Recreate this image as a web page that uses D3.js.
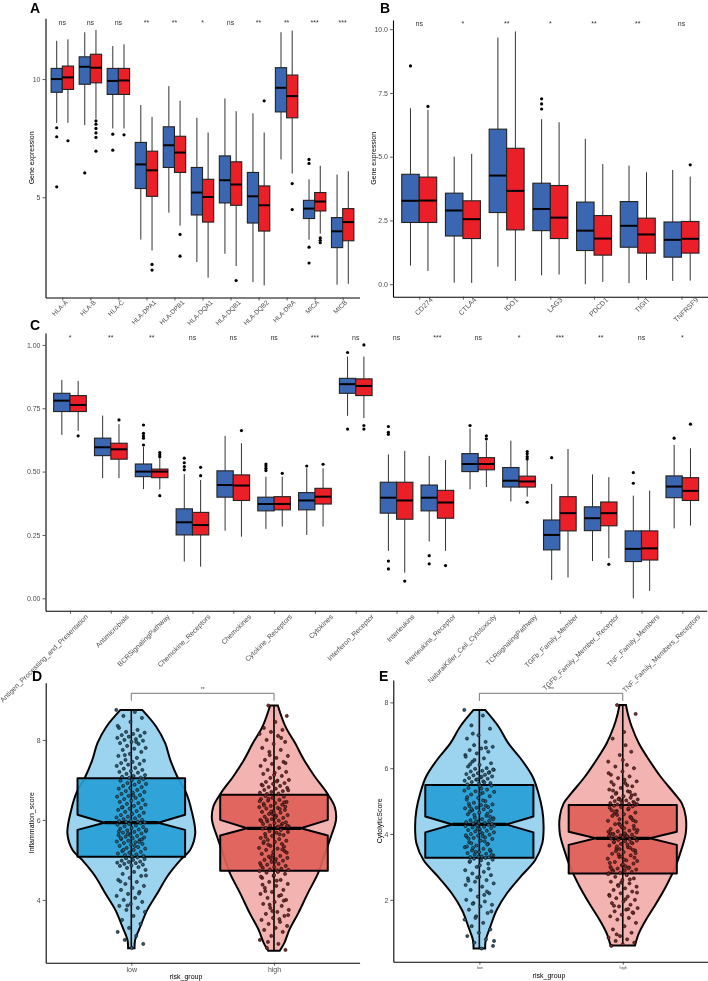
<!DOCTYPE html>
<html><head><meta charset="utf-8">
<script src="https://cdn.jsdelivr.net/npm/d3@7"></script>
<style>body{margin:0;background:#fff}svg{display:block;will-change:transform}text{font-family:"Liberation Sans",Arial,Helvetica,sans-serif}</style>
</head><body><svg id="c" width="708" height="981"></svg>
<script>
// ---------------- DATA ----------------
// stats: [lower whisker, q1, median, q3, upper whisker]
const aGenes = ["HLA-A","HLA-B","HLA-C","HLA-DPA1","HLA-DPB1","HLA-DQA1","HLA-DQB1","HLA-DQB2","HLA-DRA","MICA","MICB"];
const aSig = ["ns","ns","ns","**","**","*","ns","**","**","***","***"];
const aLow = [[8.14,9.44,10.0,10.45,11.62],[8.05,9.78,10.52,10.94,11.98],[7.91,9.35,9.92,10.45,11.4],[3.21,5.37,6.39,7.32,8.9],[4.35,6.26,7.2,7.98,9.7],[2.26,4.25,5.2,6.26,8.36],[2.61,4.76,5.72,6.75,9.18],[1.41,3.91,5.04,6.05,8.55],[6.6,8.61,9.63,10.48,11.98],[3.21,4.1,4.52,4.87,5.76],[1.3,2.87,3.56,4.14,5.96]];
const aHigh = [[8.15,9.56,10.07,10.55,11.68],[8.33,9.84,10.48,11.05,12.08],[7.91,9.35,9.94,10.45,11.47],[2.75,5.04,6.14,6.95,8.4],[3.8,6.05,6.89,7.58,9.08],[1.6,3.95,5.01,5.76,7.74],[2.09,4.66,5.54,6.5,8.64],[1.27,3.57,4.66,5.48,7.74],[6.0,8.36,9.28,10.17,12.05],[3.46,4.42,4.82,5.2,6.33],[1.34,3.16,3.95,4.52,6.1]];
const aOutLow = [[7.94,7.56,5.44],[6.03],[7.67,6.99],[],[],[],[],[],[],[6.6,6.43,2.89,2.22],[]];
const aOutHigh = [[7.39],[8.23,8.09,7.91,7.72,7.53,6.95],[7.64],[2.16,1.92],[3.43,2.51],[],[1.48],[9.08],[5.58,4.48],[3.28,3.18,3.08],[]];
const aTicks = [5,10];

const bGenes = ["CD274","CTLA4","IDO1","LAG3","PDCD1","TIGIT","TNFRSF9"];
const bSig = ["ns","*","**","*","**","**","ns"];
const bLow = [[0.73,2.42,3.27,4.31,6.9],[0.06,1.89,2.89,3.57,5.0],[0.69,2.81,4.26,6.08,9.67],[0.35,2.1,2.95,3.96,6.47],[0.0,1.32,2.1,3.22,5.7],[0.04,1.45,2.29,3.24,4.65],[0.13,1.06,1.74,2.44,4.48]];
const bHigh = [[0.52,2.42,3.28,4.2,6.84],[0.05,1.79,2.55,3.27,5.11],[0.13,2.13,3.66,5.33,9.91],[0.38,1.79,2.61,3.87,6.35],[0.09,1.14,1.79,2.69,4.71],[0.17,1.22,1.95,2.59,4.39],[0.14,1.22,1.78,2.46,4.22]];
const bOutLow = [[8.56],[],[],[7.27,7.07,6.87],[],[],[]];
const bOutHigh = [[6.97],[],[],[],[],[],[4.68]];
const bTicks = [0,2.5,5,7.5,10];

const cSets = ["Antigen_Processing_and_Presentation","Antimicrobials","BCRSignalingPathway","Chemokine_Receptors","Chemokines","Cytokine_Receptors","Cytokines","Interferon_Receptor","Interleukins","Interleukins_Receptor","NaturalKiller_Cell_Cytotoxicity","TCRsignalingPathway","TGFb_Family_Member","TGFb_Family_Member_Receptor","TNF_Family_Members","TNF_Family_Members_Receptors"];
const cSig = ["*","**","**","ns","ns","ns","***","ns","ns","***","ns","*","***","**","ns","*"];
const cLow = [[0.645,0.737,0.78,0.809,0.862],[0.474,0.563,0.596,0.632,0.721],[0.431,0.48,0.5,0.53,0.597],[0.145,0.25,0.3,0.353,0.49],[0.267,0.399,0.447,0.503,0.641],[0.274,0.345,0.372,0.399,0.48],[0.25,0.349,0.386,0.417,0.513],[0.72,0.809,0.845,0.868,0.954],[0.187,0.336,0.397,0.458,0.568],[0.224,0.345,0.397,0.447,0.562],[0.43,0.5,0.53,0.571,0.67],[0.382,0.439,0.464,0.516,0.622],[0.072,0.191,0.25,0.309,0.451],[0.147,0.267,0.316,0.361,0.489],[0.0,0.145,0.195,0.266,0.405],[0.276,0.397,0.441,0.483,0.605]];
const cHigh = [[0.661,0.737,0.763,0.8,0.858],[0.474,0.549,0.588,0.612,0.687],[0.43,0.476,0.5,0.51,0.553],[0.125,0.25,0.289,0.339,0.467],[0.243,0.386,0.445,0.487,0.612],[0.283,0.349,0.372,0.401,0.48],[0.283,0.372,0.401,0.434,0.513],[0.711,0.8,0.838,0.866,0.954],[0.101,0.312,0.386,0.458,0.582],[0.187,0.316,0.378,0.426,0.546],[0.439,0.507,0.53,0.555,0.62],[0.401,0.439,0.461,0.482,0.545],[0.082,0.266,0.336,0.401,0.589],[0.158,0.286,0.336,0.38,0.478],[0.029,0.151,0.197,0.266,0.425],[0.287,0.386,0.424,0.476,0.592]];
const cOutLow = [[],[],[0.684,0.651,0.641,0.632,0.605],[0.553,0.535,0.52,0.507],[],[0.53,0.522,0.513,0.504],[0.522],[0.97,0.668],[0.678,0.655,0.647,0.147,0.116],[0.168,0.136],[0.682],[],[0.555],[],[0.496,0.454],[0.632]];
const cOutHigh = [[0.641],[0.704],[0.575,0.566,0.559,0.405],[0.517,0.484],[0.662],[0.493],[0.529],[1.0,0.682,0.668],[0.068],[0.129],[0.641,0.629],[0.579,0.57,0.559,0.55,0.379],[],[0.134],[],[0.687]];
const cTicks = [0,0.25,0.5,0.75,1.0];

const groups = ["low","high"];
// violin profiles: [value, relative half-width]
const dProfLow = [[8.75,0.17],[8.33,0.39],[7.92,0.53],[7.5,0.61],[7.08,0.72],[6.67,0.86],[6.25,0.94],[5.67,1.0],[5.25,0.92],[5.0,0.77],[4.58,0.56],[4.17,0.41],[3.75,0.25],[3.33,0.14],[3.0,0.06],[2.79,0.05]];
const dProfHigh = [[8.86,0.06],[8.33,0.18],[7.92,0.33],[7.5,0.47],[7.08,0.64],[6.67,0.83],[6.33,0.95],[6.0,0.97],[5.58,0.89],[5.17,0.8],[4.67,0.69],[4.17,0.53],[3.67,0.38],[3.25,0.24],[2.92,0.16],[2.73,0.09]];
// [min, q1, median, q3, max, notch low, notch high]
const dStats = [[2.79,5.08,5.93,7.04,8.75,5.75,6.13],[2.73,4.73,5.79,6.63,8.86,5.61,6.0]];
const dPtsLow = [8.75,8.7,8.6,8.55,8.45,8.3,8.25,8.2,8.18,8.15,8.12,8.1,8.08,8.05,8.02,8.0,7.98,7.95,7.92,7.9,7.85,7.8,7.78,7.75,7.7,7.65,7.6,7.55,7.5,7.48,7.45,7.42,7.4,7.38,7.35,7.3,7.28,7.25,7.22,7.2,7.18,7.15,7.12,7.1,7.08,7.06,7.05,8.35,7.95,7.62,
7.02,7.0,6.98,6.95,6.92,6.9,6.88,6.85,6.82,6.8,6.78,6.75,6.72,6.7,6.68,6.65,6.62,6.6,6.58,6.55,6.52,6.5,6.48,6.45,6.42,6.4,6.38,6.35,6.32,6.3,6.28,6.25,6.22,6.2,6.18,6.15,6.12,6.1,6.08,6.06,6.04,6.02,6.0,5.98,5.97,5.96,5.95,5.94,6.61,6.31,
5.92,5.9,5.88,5.86,5.84,5.82,5.8,5.78,5.76,5.74,5.72,5.7,5.68,5.66,5.64,5.62,5.6,5.58,5.56,5.54,5.52,5.5,5.48,5.46,5.44,5.42,5.4,5.38,5.35,5.32,5.3,5.28,5.25,5.22,5.2,5.18,5.16,5.14,5.12,5.1,5.09,5.55,5.45,5.65,5.75,5.35,5.25,5.51,5.61,5.71,
5.06,5.04,5.02,5.0,4.98,4.96,4.95,4.93,4.92,4.9,4.88,4.86,4.85,4.82,4.8,4.75,4.7,4.65,4.6,4.55,4.5,4.45,4.4,4.35,4.3,4.25,4.2,4.15,4.1,4.05,4.0,3.95,3.9,3.85,3.8,3.75,3.7,3.6,3.5,3.4,3.3,3.2,3.1,3.0,2.9,2.8,4.46,4.16,3.86,4.61];
const dPtsHigh = [8.86,8.6,8.45,8.3,8.25,8.2,8.15,8.1,8.0,7.95,7.9,7.8,7.75,7.7,7.6,7.55,7.5,7.45,7.4,7.35,7.3,7.25,7.2,7.18,7.15,7.1,7.05,7.0,6.98,6.95,6.92,6.9,6.88,6.85,6.82,6.8,6.78,6.75,6.72,6.7,6.68,6.66,6.65,7.42,7.12,6.86,8.05,7.62,6.74,6.96,
6.6,6.58,6.55,6.52,6.5,6.48,6.45,6.42,6.4,6.38,6.35,6.32,6.3,6.28,6.25,6.22,6.2,6.18,6.15,6.12,6.1,6.08,6.05,6.02,6.0,5.98,5.96,5.94,5.92,5.9,5.88,5.86,5.84,5.82,5.8,6.44,6.14,5.97,6.27,6.53,5.85,6.06,6.36,5.91,6.21,6.47,5.83,6.01,6.33,6.17,
5.78,5.75,5.72,5.7,5.68,5.65,5.62,5.6,5.55,5.52,5.5,5.48,5.45,5.42,5.4,5.35,5.3,5.28,5.25,5.22,5.2,5.15,5.1,5.08,5.05,5.02,5.0,4.98,4.95,4.92,4.9,4.88,4.85,4.82,4.8,4.78,4.76,4.75,4.74,5.58,5.33,5.12,4.86,5.64,5.38,5.18,4.96,5.46,5.26,5.04,
4.72,4.7,4.68,4.65,4.6,4.55,4.5,4.45,4.4,4.35,4.3,4.25,4.2,4.15,4.1,4.05,4.0,3.95,3.9,3.85,3.8,3.75,3.7,3.65,3.6,3.55,3.5,3.45,3.4,3.35,3.3,3.25,3.2,3.1,3.0,2.9,2.8,2.75,4.62,4.38,4.12,3.88,3.62,4.48,4.22,3.98,3.72,4.58,3.52,2.95];
const eProfLow = [[7.77,0.09],[7.26,0.3],[6.76,0.45],[6.25,0.66],[5.74,0.83],[5.24,0.92],[4.73,0.98],[4.22,1.0],[3.72,0.98],[3.21,0.87],[2.7,0.64],[2.2,0.43],[1.69,0.27],[1.18,0.17],[0.78,0.1],[0.52,0.09]];
const eProfHigh = [[7.92,0.05],[7.57,0.09],[7.26,0.14],[6.76,0.25],[6.25,0.41],[5.74,0.59],[5.24,0.8],[4.93,0.92],[4.53,0.98],[4.02,0.98],[3.51,0.91],[3.01,0.82],[2.4,0.67],[1.89,0.52],[1.39,0.36],[0.98,0.25],[0.61,0.19]];
const eStats = [[0.52,3.28,4.29,5.49,7.77,4.05,4.53],[0.6,2.8,3.87,4.88,7.92,3.67,4.07]];
const ePtsLow = [7.77,7.6,7.3,7.2,7.0,6.9,6.8,6.7,6.65,6.6,6.55,6.5,6.45,6.4,6.3,6.2,6.15,6.1,6.05,6.0,5.98,5.95,5.92,5.9,5.88,5.85,5.82,5.8,5.78,5.75,5.72,5.7,5.68,5.65,5.62,5.6,5.58,5.55,5.53,5.51,6.62,6.25,5.96,5.74,6.12,5.86,5.66,6.35,5.57,7.05,
5.47,5.45,5.4,5.35,5.3,5.28,5.25,5.2,5.15,5.1,5.05,5.0,4.95,4.9,4.88,4.85,4.82,4.8,4.78,4.75,4.72,4.7,4.65,4.6,4.55,4.5,4.48,4.45,4.42,4.4,4.38,4.36,4.34,4.32,4.3,5.22,4.92,4.62,4.38,5.32,5.02,4.76,4.52,4.33,5.12,4.86,4.58,4.44,5.38,4.68,
4.28,4.26,4.24,4.22,4.2,4.18,4.15,4.12,4.1,4.08,4.05,4.02,4.0,3.98,3.95,3.92,3.9,3.88,3.85,3.8,3.75,3.7,3.65,3.6,3.55,3.5,3.48,3.45,3.42,3.4,3.38,3.35,3.32,3.3,3.29,4.16,3.96,3.78,3.58,3.36,4.06,3.86,3.68,3.46,4.25,3.93,3.72,3.52,3.31,3.62,
3.27,3.25,3.22,3.2,3.15,3.1,3.0,2.9,2.85,2.8,2.75,2.7,2.65,2.6,2.55,2.5,2.4,2.3,2.2,2.1,2.0,1.95,1.9,1.85,1.8,1.7,1.6,1.5,1.4,1.3,1.2,1.1,1.0,0.9,0.8,0.7,0.6,0.52,3.18,2.95,2.68,2.45,2.15,1.88,1.65,3.05,2.58,2.25,1.45,0.75];
const ePtsHigh = [7.92,7.65,7.1,6.9,6.5,6.4,6.2,6.1,6.05,6.0,5.9,5.8,5.75,5.7,5.6,5.55,5.5,5.45,5.4,5.35,5.3,5.25,5.2,5.15,5.12,5.1,5.08,5.05,5.02,5.0,4.98,4.96,4.94,4.92,4.9,4.89,5.65,5.32,5.18,5.04,5.85,5.48,5.22,4.95,6.25,5.58,5.28,5.06,4.91,6.7,
4.86,4.84,4.82,4.8,4.75,4.7,4.65,4.6,4.55,4.5,4.45,4.4,4.35,4.3,4.25,4.2,4.15,4.1,4.08,4.05,4.02,4.0,3.98,3.96,3.94,3.92,3.9,3.89,3.88,4.72,4.52,4.32,4.12,3.95,4.62,4.42,4.22,4.03,4.78,4.58,4.38,4.18,3.99,4.48,4.28,4.07,3.93,4.68,4.16,3.91,
3.86,3.84,3.82,3.8,3.78,3.75,3.72,3.7,3.65,3.6,3.55,3.5,3.45,3.4,3.35,3.3,3.25,3.2,3.15,3.1,3.05,3.0,2.98,2.95,2.92,2.9,2.88,2.85,2.82,2.81,3.68,3.48,3.28,3.08,2.94,3.58,3.38,3.18,3.02,3.76,3.52,3.32,3.12,2.96,3.62,3.42,3.22,2.86,3.74,3.54,
2.78,2.75,2.7,2.65,2.6,2.55,2.5,2.45,2.4,2.35,2.3,2.25,2.2,2.15,2.1,2.05,2.0,1.95,1.9,1.85,1.8,1.75,1.7,1.65,1.6,1.55,1.5,1.45,1.4,1.3,1.2,1.1,1.0,0.9,0.85,0.8,0.75,0.7,0.65,0.6,2.62,2.42,2.22,2.02,1.82,1.62,2.52,2.12,1.72,0.95];

// ---------------- DRAW ----------------
const svg = d3.select("#c");
const BLUE = "#3b66b1", RED = "#eb1f27";
const TICKCOL = "#4d4d4d";

function styleAxis(ax, fs){
  ax.select(".domain").attr("stroke","#000").attr("stroke-width",1.1);
  ax.selectAll(".tick line").attr("stroke","#333").attr("stroke-width",0.8);
  ax.selectAll("text").attr("fill",TICKCOL).attr("font-size",fs).attr("font-family",null);
}

function letter(t,x,y){
  svg.append("text").attr("x",x).attr("y",y).text(t).attr("font-size",14).attr("font-weight","bold").attr("fill","#000");
}

function boxPanel(o){
  const g = svg.append("g");
  const x = d3.scalePoint().domain(o.cats).range([o.x0,o.x1]).padding(0.6);
  const y = d3.scaleLinear().domain(o.domain).range([o.yBot,o.yTop]);
  const step = x.step(), bw = step*0.4;
  const ya = g.append("g").attr("transform",`translate(${o.x0},0)`)
    .call(d3.axisLeft(y).tickValues(o.ticks).tickFormat(o.fmt).tickSize(3).tickSizeOuter(0).tickPadding(2));
  styleAxis(ya, 7);
  const xa = g.append("g").attr("transform",`translate(0,${o.yBot})`)
    .call(d3.axisBottom(x).tickSize(3).tickSizeOuter(0));
  styleAxis(xa, o.labelSize);
  xa.selectAll(".tick text").each(function(){
    const t = d3.select(this);
    t.attr("y",0).attr("dy",null);
    if (o.labelMode === "end") {
      t.attr("text-anchor","end").attr("x",0)
       .attr("transform",`translate(${o.lx},${o.ly}) rotate(-45)`);
    } else {
      const L = this.getComputedTextLength();
      const a = o.labelSize*0.75;
      const cy = o.ly + 0.354*(L + a);
      t.attr("text-anchor","middle").attr("x",0).attr("dy","0.35em")
       .attr("transform",`translate(${o.lx},${cy}) rotate(-45)`);
    }
  });
  if (o.yTitle) {
    g.append("text").attr("transform",`translate(${o.titleX},${(o.yTop+o.yBot)/2}) rotate(-90)`)
      .attr("text-anchor","middle").attr("font-size",7).attr("fill","#000").text(o.yTitle);
  }
  o.cats.forEach((c,i)=>{
    g.append("text").attr("x",x(c)).attr("y",o.sigY).attr("text-anchor","middle")
      .attr("font-size",7).attr("fill","#333").text(o.sig[i]);
    [[o.low[i],o.outLow[i],BLUE,-1],[o.high[i],o.outHigh[i],RED,1]].forEach(([s,out,col,side])=>{
      const cx = x(c) + side*bw/2;
      g.append("line").attr("x1",cx).attr("x2",cx).attr("y1",y(s[4])).attr("y2",y(s[3])).attr("stroke","#333").attr("stroke-width",1);
      g.append("line").attr("x1",cx).attr("x2",cx).attr("y1",y(s[1])).attr("y2",y(s[0])).attr("stroke","#333").attr("stroke-width",1);
      g.append("rect").attr("x",cx-bw/2).attr("width",bw).attr("y",y(s[3])).attr("height",y(s[1])-y(s[3]))
        .attr("fill",col).attr("stroke","#222").attr("stroke-width",1.1);
      g.append("line").attr("x1",cx-bw/2).attr("x2",cx+bw/2).attr("y1",y(s[2])).attr("y2",y(s[2])).attr("stroke","#000").attr("stroke-width",2);
      out.forEach(v=>g.append("circle").attr("cx",cx).attr("cy",y(v)).attr("r",1.6).attr("fill","#000"));
    });
  });
}

function violinPanel(o){
  const g = svg.append("g");
  const x = d3.scalePoint().domain(groups).range([o.x0,o.x1]).padding(0.6);
  const y = d3.scaleLinear().domain(o.domain).range([o.yBot,o.yTop]);
  const step = x.step(), W = step*0.448, hw = step*0.377, inset = hw*0.5;
  const ya = g.append("g").attr("transform",`translate(${o.x0},0)`)
    .call(d3.axisLeft(y).tickValues(o.ticks).tickFormat(d3.format("d")).tickSize(3).tickSizeOuter(0).tickPadding(2));
  styleAxis(ya, 7);
  const xa = g.append("g").attr("transform",`translate(0,${o.yBot})`)
    .call(d3.axisBottom(x).tickSize(3).tickSizeOuter(0).tickPadding(1.5));
  styleAxis(xa, o.xLabelSize);
  g.append("text").attr("transform",`translate(${o.titleX},${(o.yTop+o.yBot)/2}) rotate(-90)`)
    .attr("text-anchor","middle").attr("font-size",7).attr("fill","#000").text(o.yTitle);
  g.append("text").attr("x",o.xTitleX).attr("y",o.yBot+16.5).attr("text-anchor","middle")
    .attr("font-size",7).attr("fill","#000").text("risk_group");
  const fills = [["#9cd3ef","#27a0d7"],["#f3b4b1","#df5f59"]];
  const ptFill = ["#2b5d75","#7a2c28"];
  groups.forEach((gn,k)=>{
    const cx = x(gn);
    const area = d3.area().curve(d3.curveCatmullRom.alpha(0.5))
      .y(d=>y(d[0])).x0(d=>cx - d[1]*W).x1(d=>cx + d[1]*W);
    g.append("path").attr("d",area(o.prof[k])).attr("fill",fills[k][0]).attr("stroke","#000").attr("stroke-width",2);
    const s = o.stats[k];
    const L = cx-hw, R = cx+hw;
    const p = d3.path();
    p.moveTo(L,y(s[3])); p.lineTo(R,y(s[3])); p.lineTo(R,y(s[6])); p.lineTo(R-inset,y(s[2]));
    p.lineTo(R,y(s[5])); p.lineTo(R,y(s[1])); p.lineTo(L,y(s[1])); p.lineTo(L,y(s[5]));
    p.lineTo(L+inset,y(s[2])); p.lineTo(L,y(s[6])); p.closePath();
    g.append("path").attr("d",p.toString()).attr("fill",fills[k][1]).attr("fill-opacity",0.92)
      .attr("stroke","#000").attr("stroke-width",2).attr("stroke-linejoin","round");
    g.append("line").attr("x1",cx).attr("x2",cx).attr("y1",y(s[4])).attr("y2",y(s[0])).attr("stroke","#000").attr("stroke-width",1.6);
    g.append("line").attr("x1",L+inset).attr("x2",R-inset).attr("y1",y(s[2])).attr("y2",y(s[2])).attr("stroke","#000").attr("stroke-width",3.2);
    const jw = step*0.105;
    o.pts[k].forEach((v,i)=>{
      const f = ((i*0.6180339887 + k*0.31) % 1)*2 - 1;
      g.append("circle").attr("cx",cx + f*jw).attr("cy",y(v)).attr("r",1.6)
        .attr("fill",ptFill[k]).attr("stroke","#000").attr("stroke-width",0.5);
    });
  });
  // significance bracket
  const x1 = x(groups[0]), x2 = x(groups[1]);
  g.append("path").attr("d",`M${x1},${o.brY+7.5}V${o.brY}H${x2}V${o.brY+7.5}`).attr("fill","none").attr("stroke","#555").attr("stroke-width",0.8);
  g.append("text").attr("x",(x1+x2)/2).attr("y",o.brY-2).attr("text-anchor","middle").attr("font-size",5).attr("fill","#444").text(o.sig);
}

// Panel A
boxPanel({cats:aGenes, sig:aSig, low:aLow, high:aHigh, outLow:aOutLow, outHigh:aOutHigh,
  x0:45.5, x1:359.5, yTop:18.3, yBot:297.5, domain:[0.76,12.57], ticks:aTicks, fmt:d3.format("d"),
  labelSize:6.5, labelMode:"center", lx:-3, ly:2, yTitle:"Gene expression", titleX:34, sigY:25});
letter("A",30,13);
// Panel B
boxPanel({cats:bGenes, sig:bSig, low:bLow, high:bHigh, outLow:bOutLow, outHigh:bOutHigh,
  x0:393, x1:707.7, yTop:20, yBot:296.7, domain:[-0.49,10.36], ticks:bTicks, fmt:d3.format(".1f"),
  labelSize:7, labelMode:"center", lx:4, ly:0, yTitle:"Gene expression", titleX:376, sigY:26});
letter("B",380,13);
// Panel C
boxPanel({cats:cSets, sig:cSig, low:cLow, high:cHigh, outLow:cOutLow, outHigh:cOutHigh,
  x0:45.5, x1:706.8, yTop:333, yBot:610.7, domain:[-0.049,1.047], ticks:cTicks, fmt:d3.format(".2f"),
  labelSize:7, labelMode:"end", lx:18, ly:6.5, yTitle:null, sigY:340});
letter("C",30,330);
// Panel D
violinPanel({x0:45.7, x1:359.6, yTop:682.7, yBot:962.7, domain:[2.43,9.43], ticks:[4,6,8],
  prof:[dProfLow,dProfHigh], stats:dStats, pts:[dPtsLow,dPtsHigh], yTitle:"Inflammation_score",
  titleX:33.5, xTitleX:186, xLabelSize:7, brY:693.3, sig:"**"});
letter("D",32,681);
// Panel E
violinPanel({x0:393.3, x1:708.8, yTop:680, yBot:961.7, domain:[0.12,8.68], ticks:[2,4,6,8],
  prof:[eProfLow,eProfHigh], stats:eStats, pts:[ePtsLow,ePtsHigh], yTitle:"CytolyticScore",
  titleX:381.5, xTitleX:549, xLabelSize:4, brY:693.3, sig:"***"});
letter("E",379,681);
</script></body></html>
